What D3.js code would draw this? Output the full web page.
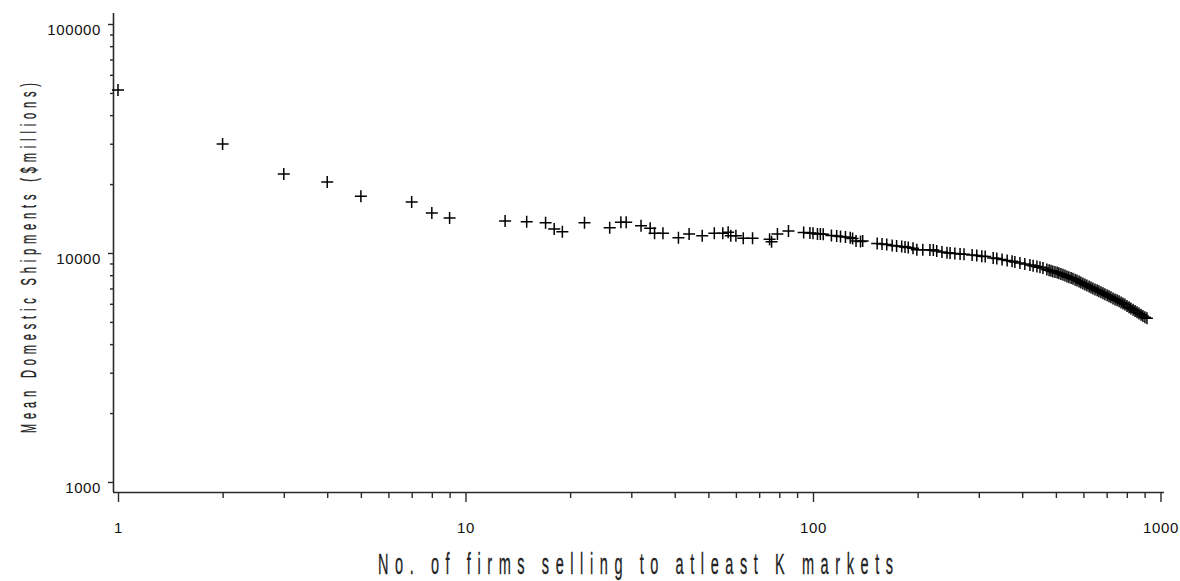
<!DOCTYPE html>
<html><head><meta charset="utf-8">
<script src="https://cdn.jsdelivr.net/npm/d3@7"></script>
<style>
html,body{margin:0;padding:0;background:#fff;}
svg{display:block;}
</style></head>
<body>
<svg id="chart" width="1180" height="581"></svg>
<script>
// Number of firms selling to at least K markets (x) vs mean domestic shipments, $millions (y)
const firms = [1,2,3,4,5,7,8,9,13,15,17,18,19,22,26,28,29,32,34,35,37,41,44,48,52,55,57,58,60,63,67,75,76,79,85,
  94,98,100,103,105,107,113,117,120,124,128,130,133,137,139,153,158,163,169,174,180,184,188,194,
  199,207,217,222,227,235,243,248,256,265,272,287,296,306,313,330,338,350,362,374,381,394,407,421,430,441,450,459,
  471,478,484,490,497,504,510,517,524,531,538,545,553,560,568,575,583,590,598,606,614,623,631,639,648,657,665,674,
  683,692,702,711,720,730,740,750,760,770,780,790,801,812,822,834,845,856,867,879,890,902,914];
const shipments = [51500,29900,22100,20400,17700,16700,14950,14200,13800,13700,13560,12730,12390,13560,12900,13620,13620,13160,12820,12190,12190,11660,12100,11900,12190,12190,12310,11900,11900,11590,11590,11480,11200,12100,12470,
  12290,12230,12190,12100,12100,12070,11925,11865,11800,11745,11660,11570,11280,11230,11280,11000,10950,10890,10780,10730,10680,10620,10570,10490,
  10340,10340,10300,10300,10200,10100,10030,10000,9950,9900,9870,9800,9750,9670,9650,9510,9460,9370,9270,9200,9130,9040,8950,8860,8790,8730,8660,8600,
  8470,8410,8360,8310,8260,8210,8160,8100,8030,7970,7890,7840,7780,7710,7640,7580,7510,7430,7360,7290,7210,7140,7070,7000,6930,6870,6810,6740,
  6670,6600,6540,6470,6410,6330,6270,6210,6150,6085,6020,5950,5870,5800,5720,5655,5580,5515,5440,5380,5310,5245,5190];
const xMajorTicks = [1,10,100,1000];
const xTickLabels = ["1","10","100","1000"];
const yMajorTicks = [1000,10000,100000];
const yTickLabels = ["1000","10000","100000"];
const xTitle = "No. of firms selling to atleast K markets";
const yTitle = "Mean Domestic Shipments ($millions)";

const svg = d3.select("#chart");
const x = d3.scaleLog().domain([0.9674, 1023.5]).range([113, 1164]);
const y = d3.scaleLog().domain([904, 111700]).range([492, 13]);

const minorX = [];
[1,10,100].forEach(d => { for (let m = 2; m <= 9; m++) minorX.push(d*m); });
const minorY = [];
[1000,10000].forEach(d => { for (let m = 2; m <= 9; m++) minorY.push(d*m); });

const axisColor = "#2a2a2a";
const tickFont = "'Liberation Sans', Arial, sans-serif";

const gxm = svg.append("g").attr("transform","translate(0,492)")
  .call(d3.axisBottom(x).tickValues(minorX).tickSize(6).tickFormat(""));
const gx = svg.append("g").attr("transform","translate(0,492)")
  .call(d3.axisBottom(x).tickValues(xMajorTicks).tickSize(10).tickPadding(20)
    .tickFormat((d,i) => xTickLabels[i]));
const gym = svg.append("g").attr("transform","translate(113,0)")
  .call(d3.axisLeft(y).tickValues(minorY).tickSize(3).tickFormat(""));
const gy = svg.append("g").attr("transform","translate(113,0)")
  .call(d3.axisLeft(y).tickValues(yMajorTicks).tickSize(5).tickPadding(7)
    .tickFormat((d,i) => yTickLabels[i]));

[gxm,gx,gym,gy].forEach(g => {
  g.select(".domain").attr("stroke", axisColor).attr("stroke-width", 1.6);
  g.selectAll(".tick line").attr("stroke", axisColor).attr("stroke-width", 1.4);
});
gx.select(".domain").attr("d", `M113,0.5H1164`);
gxm.select(".domain").remove();
gy.select(".domain").attr("d", `M0.5,13V492`);
gym.select(".domain").remove();

gx.selectAll(".tick text").attr("font-family", tickFont).attr("font-size", 15)
  .attr("letter-spacing", "0.6px").attr("fill", "#111").attr("dy", "0.71em");
gy.selectAll(".tick text").attr("font-family", tickFont).attr("font-size", 15)
  .attr("letter-spacing", "0.6px").attr("fill", "#111").attr("dy", "0.75em").attr("y", -1);

svg.append("g").selectAll("path.pt")
  .data(firms.map((f,i) => [f, shipments[i]]))
  .join("path")
  .attr("class","pt")
  .attr("transform", d => `translate(${x(d[0])},${y(d[1])})`)
  .attr("d", "M-6,0H6M0,-6V6")
  .attr("stroke", "#000")
  .attr("stroke-width", 1.5)
  .attr("fill", "none");

const titleFont = "'Liberation Sans', Arial, sans-serif";
svg.append("g").attr("transform", "translate(635.5,574) scale(0.5,1)")
  .append("text")
  .attr("text-anchor","middle")
  .attr("font-family", titleFont)
  .attr("font-size", 29)
  .attr("fill", "#222")
  .attr("stroke", "#222")
  .attr("stroke-width", 0.3)
  .attr("textLength", 1030)
  .attr("lengthAdjust", "spacing")
  .text(xTitle);

svg.append("g").attr("transform", "translate(36,258) rotate(-90) scale(0.5,1)")
  .append("text")
  .attr("text-anchor","middle")
  .attr("font-family", titleFont)
  .attr("font-size", 22)
  .attr("fill", "#222")
  .attr("stroke", "#222")
  .attr("stroke-width", 0.3)
  .attr("textLength", 700)
  .attr("lengthAdjust", "spacing")
  .text(yTitle);
</script>
</body></html>
